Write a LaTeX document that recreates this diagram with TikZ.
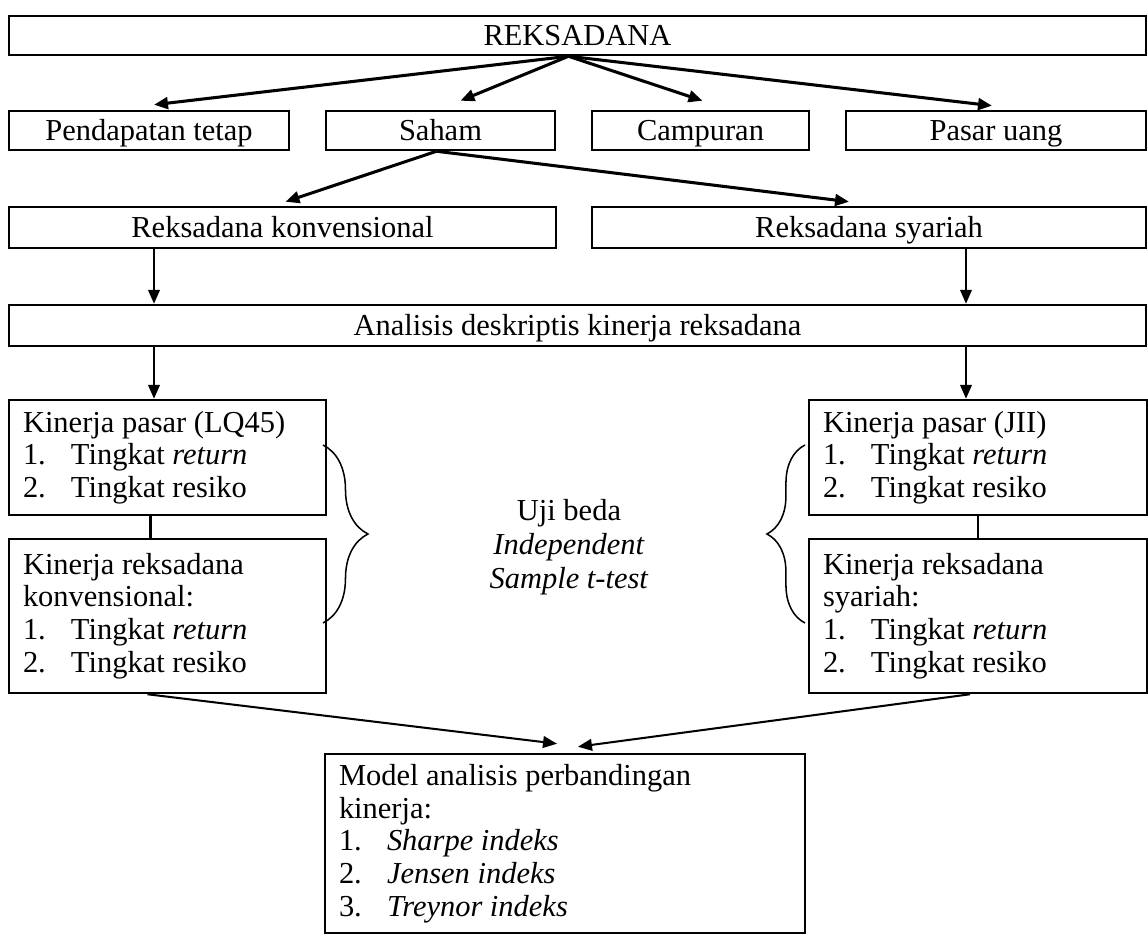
\documentclass[tikz,border=0pt]{standalone}
\usepackage{fontspec}
\setmainfont{Liberation Serif}
\usetikzlibrary{arrows.meta}
\usetikzlibrary{calc}
\usetikzlibrary{decorations.pathreplacing}
\newdimen\pix \pix=0.3937pt
\newcommand{\butir}[2]{\makebox[48\pix][l]{#1}#2}

\begin{document}
\begin{tikzpicture}[
    x=0.3937pt, y=-0.3937pt,
    >={Triangle[length=5.5pt,width=4.6pt]},
    font=\fontsize{12}{12.9}\selectfont]
    \tikzstyle{kotak}=[draw,line width=1pt,inner sep=0pt,minimum height=39*\pix,
      text height=10pt,text depth=2pt]
    \tikzstyle{daftar}=[draw,line width=1pt,align=flush left,inner xsep=14*\pix,inner ysep=0pt]
    \useasboundingbox (0,0) rectangle (1148,936);
    % baris atas
    \node[kotak,minimum width=1137*\pix] (reks) at (577.5,35.5) {REKSADANA};
    \node[kotak,minimum width=280*\pix] (pend) at (149,130.5) {Pendapatan tetap};
    \node[kotak,minimum width=229*\pix] (saham) at (440.5,130.5) {Saham};
    \node[kotak,minimum width=217*\pix] (camp) at (700.5,130.5) {Campuran};
    \node[kotak,minimum width=300*\pix] (pasar) at (996,130.5) {Pasar uang};
    \node[kotak,minimum width=547*\pix,minimum height=41*\pix] (konv) at (282.5,227.5) {Reksadana konvensional};
    \node[kotak,minimum width=554*\pix,minimum height=41*\pix] (syar) at (869,227.5) {Reksadana syariah};
    \node[kotak,minimum width=1137*\pix,minimum height=41*\pix] (anal) at (577.5,325.5) {Analisis deskriptis kinerja reksadana};
    % kinerja
    \node[daftar,text width=289*\pix,minimum height=115*\pix] (lq) at (167.5,457.5)
      {Kinerja pasar (LQ45)\\ \butir{1.}{Tingkat \emph{return}}\\ \butir{2.}{Tingkat resiko}};
    \node[daftar,text width=289*\pix,minimum height=154*\pix] (rkonv) at (167.5,616)
      {Kinerja reksadana\\ konvensional:\\ \butir{1.}{Tingkat \emph{return}}\\ \butir{2.}{Tingkat resiko}};
    \node[daftar,text width=310*\pix,minimum height=115*\pix] (jii) at (978,457.5)
      {Kinerja pasar (JII)\\ \butir{1.}{Tingkat \emph{return}}\\ \butir{2.}{Tingkat resiko}};
    \node[daftar,text width=310*\pix,minimum height=154*\pix] (rsyar) at (978,616)
      {Kinerja reksadana\\ syariah:\\ \butir{1.}{Tingkat \emph{return}}\\ \butir{2.}{Tingkat resiko}};
    \node[align=flush center,font=\fontsize{12}{13.4}\selectfont] (uji) at (569,547)
      {Uji beda\\ \emph{Independent}\\ \emph{Sample t-test}};
    \node[daftar,text width=452*\pix,minimum height=179*\pix] (model) at (565,843.5)
      {Model analisis perbandingan\\ kinerja:\\ \butir{1.}{\emph{Sharpe indeks}}\\
       \butir{2.}{\emph{Jensen indeks}}\\ \butir{3.}{\emph{Treynor indeks}}};
    % panah
    \coordinate (pangkal) at ($(reks.south)+(-9,0)$);
    \coordinate (kolL) at (154,0);
    \coordinate (kolR) at (966,0);
    \path[->,line width=1.2pt]
      (pangkal) edge ($(pend.north)+(5,-5)$)
                edge ($(saham.north)+(20,-9)$)
                edge ($(camp.north)+(2,-9)$)
                edge ($(pasar.north)+(-4,-4)$);
    \path[->,line width=1.2pt]
      ($(saham.south)+(-4,0)$) edge ($(konv.north)+(3,-4)$)
                               edge ($(syar.north)+(-20,-4)$);
    \path[->,line width=0.8pt]
      (konv.south -| kolL) edge (anal.north -| kolL)
      (syar.south -| kolR) edge (anal.north -| kolR)
      (anal.south -| kolL) edge (lq.north -| kolL)
      (anal.south -| kolR) edge (jii.north -| kolR)
      ($(rkonv.south)+(-20,0)$) edge ($(model.north)+(-8,-9)$)
      ($(rsyar.south)+(-8,0)$) edge ($(model.north)+(13,-6)$);
    \draw[line width=0.8pt] ($(lq.south)+(-17,0)$) -- ($(rkonv.north)+(-17,0)$);
    \draw[line width=0.8pt] (jii.south) -- (rsyar.north);
    % kurung kurawal
    \coordinate (kurL1) at (323,445);
    \coordinate (kurL2) at (323,623);
    \coordinate (kurR1) at (805,445);
    \coordinate (kurR2) at (805,623);
    \draw[line width=0.6pt,decorate,decoration={brace,amplitude=17.7pt}] (kurL1) -- (kurL2);
    \draw[line width=0.6pt,decorate,decoration={brace,amplitude=15pt}] (kurR2) -- (kurR1);
  \end{tikzpicture}
\end{document}
